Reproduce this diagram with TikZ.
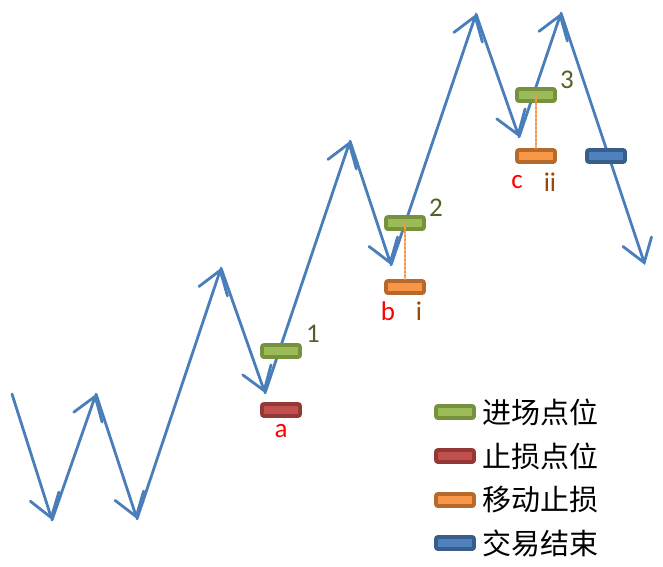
\documentclass[tikz,border=0pt]{standalone}
\usepackage{fontspec}
\setmainfont{Carlito}
\newfontfamily\cjk{Noto Sans CJK SC}
\usetikzlibrary{arrows.meta,positioning}

\definecolor{wave}{HTML}{4A7EBB}
\definecolor{entryedge}{HTML}{76923C}
\definecolor{entryfill}{HTML}{9BBB59}
\definecolor{stopedge}{HTML}{953735}
\definecolor{stopfill}{HTML}{C0504D}
\definecolor{trailedge}{HTML}{B7692B}
\definecolor{trailfill}{HTML}{F79646}
\definecolor{exitedge}{HTML}{385D8A}
\definecolor{exitfill}{HTML}{4F81BD}
\definecolor{numtext}{HTML}{4F6228}
\definecolor{trailtext}{HTML}{984807}

\tikzset{
  lvl/.style={rectangle,rounded corners=2pt,line width=3.8pt,minimum width=38pt,minimum height=12pt,inner sep=0pt},
  entrybox/.style={lvl,draw=entryedge,fill=entryfill},
  stopbox/.style={lvl,draw=stopedge,fill=stopfill},
  trailbox/.style={lvl,draw=trailedge,fill=trailfill},
  exitbox/.style={lvl,draw=exitedge,fill=exitfill},
  lbl/.style={font=\fontsize{27}{30}\selectfont,inner sep=0pt},
  legtext/.style={font=\cjk\fontsize{29}{32}\selectfont,inner sep=0pt,anchor=west},
  guide/.style={trailfill,line width=2.4pt,dash pattern=on 2pt off 2pt}
}

\begin{document}
\begin{tikzpicture}[x=1pt,y=-1pt,>={Straight Barb[length=22pt,width=30pt,line cap=round]},line cap=round]
\useasboundingbox (0,0) rectangle (663,566);

%% Price path
\coordinate (W0) at (12,394);
\coordinate (W1) at (52,520);
\coordinate (W2) at (96,394);
\coordinate (W3) at (137,519);
\coordinate (W4) at (221,268);
\coordinate (W5) at (265,393);
\coordinate (W6) at (350,141);
\coordinate (W7) at (391,265);
\coordinate (W8) at (476,14);
\coordinate (W9) at (519,137);
\coordinate (W10) at (561,13);
\coordinate (W11) at (645,265);
\foreach \a [evaluate=\a as \b using int(\a+1)] in {0,...,10}
  \draw[->,wave,line width=2.8pt] (W\a) -- (W\b);

%% Levels along the path
\node (E1) [entrybox] at (281,351) {};
\node (S1) [stopbox]  at (281,410) {};
\node (E2) [entrybox] at (405,223) {};
\node (T1) [trailbox] at (405,287) {};
\node (E3) [entrybox] at (536,95) {};
\node (T2) [trailbox] at (536,156) {};
\node (X1) [exitbox]  at (606,156) {};

\draw[guide] (E2.center) -- (T1.north);
\draw[guide] (E3.center) -- (T2.north);

\node (n1) [lbl,numtext] at (313,334) {1};
\node (n2) [lbl,numtext] at (436,208) {2};
\node (n3) [lbl,numtext] at (567,80) {3};
\node (la) [lbl,red] at (281,431) {a};
\node (lb) [lbl,red] at (388,311) {b};
\node (li) [lbl,trailtext] at (419,311) {i};
\node (lc) [lbl,red] at (517,182) {c};
\node (lii) [lbl,trailtext] at (550,182) {ii};

%% Legend
\node (G1) [entrybox] at (455,412) {};
\node (G2) [stopbox]  at (455,456) {};
\node (G3) [trailbox] at (455,500) {};
\node (G4) [exitbox]  at (455,543) {};
\node (g1) [legtext,right=6pt of G1] {进场点位};
\node (g2) [legtext,right=6pt of G2] {止损点位};
\node (g3) [legtext,right=6pt of G3] {移动止损};
\node (g4) [legtext,right=6pt of G4] {交易结束};
\end{tikzpicture}
\end{document}
